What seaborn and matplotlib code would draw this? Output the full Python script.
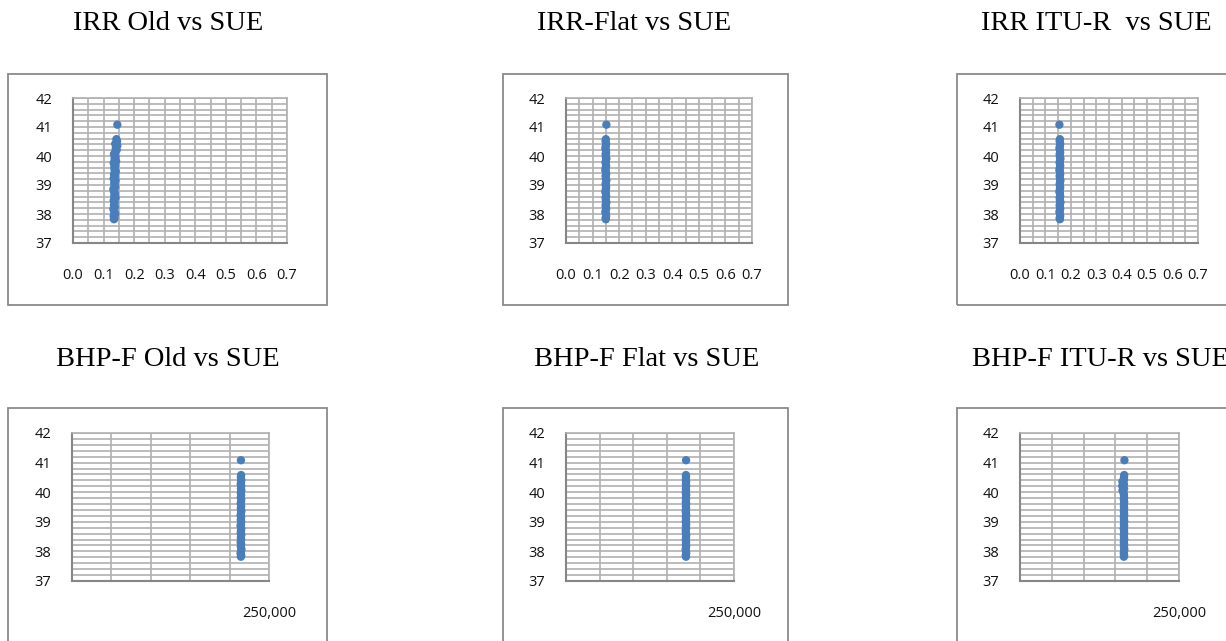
import matplotlib
matplotlib.use("Agg")
import matplotlib.pyplot as plt
from matplotlib.patches import Rectangle
from matplotlib.ticker import MultipleLocator, FixedLocator, FixedFormatter
import seaborn as sns
import pandas as pd

# ---------------- data ----------------
titles_top = ["IRR Old vs SUE", "IRR-Flat vs SUE", "IRR ITU-R  vs SUE"]
titles_bottom = ["BHP-F Old vs SUE", "BHP-F Flat vs SUE", "BHP-F ITU-R vs SUE"]

sue = [37.82, 37.86, 37.93, 38.01, 38.08, 38.17, 38.24, 38.31, 38.40, 38.47,
       38.56, 38.62, 38.71, 38.77, 38.86, 38.92, 39.01, 39.07, 39.16, 39.22,
       39.31, 39.37, 39.46, 39.52, 39.61, 39.67, 39.76, 39.82, 39.91, 39.97,
       40.06, 40.12, 40.21, 40.27, 40.36, 40.42, 40.51, 40.58, 41.08]

irr_old = [0.134, 0.136, 0.133, 0.138, 0.135, 0.132, 0.137, 0.134, 0.136, 0.133,
           0.139, 0.135, 0.137, 0.134, 0.132, 0.138, 0.136, 0.135, 0.139, 0.133,
           0.137, 0.134, 0.140, 0.136, 0.135, 0.138, 0.133, 0.141, 0.136, 0.139,
           0.134, 0.137, 0.143, 0.140, 0.145, 0.138, 0.144, 0.142, 0.145]
irr_flat = [0.150, 0.149, 0.151, 0.150, 0.148, 0.151, 0.150, 0.149, 0.152, 0.150,
            0.149, 0.151, 0.150, 0.148, 0.150, 0.151, 0.149, 0.150, 0.152, 0.150,
            0.149, 0.151, 0.150, 0.148, 0.150, 0.151, 0.149, 0.150, 0.152, 0.150,
            0.149, 0.151, 0.150, 0.148, 0.150, 0.151, 0.149, 0.150, 0.152]
irr_itur = [0.157, 0.156, 0.158, 0.157, 0.155, 0.158, 0.157, 0.156, 0.159, 0.157,
            0.156, 0.158, 0.157, 0.155, 0.157, 0.158, 0.156, 0.157, 0.159, 0.157,
            0.156, 0.158, 0.157, 0.155, 0.157, 0.158, 0.156, 0.157, 0.159, 0.157,
            0.156, 0.158, 0.157, 0.155, 0.157, 0.158, 0.156, 0.157, 0.155]
bhp_old = [214300, 214800, 213900, 214500, 215000, 214200, 214700, 214000, 214600, 214300,
           214900, 214100, 214500, 214800, 213900, 214400, 214700, 214200, 214600, 214000,
           214500, 214900, 214300, 214700, 214100, 214500, 214800, 214200, 214600, 214300,
           214900, 214400, 214700, 214100, 214500, 214800, 214300, 214600, 214400]
bhp_flat = [178600, 178200, 178900, 178500, 178100, 178800, 178400, 178700, 178300, 178600,
            178900, 178400, 178200, 178700, 178500, 178800, 178300, 178600, 178400, 178900,
            178500, 178200, 178700, 178400, 178800, 178300, 178600, 178500, 178900, 178300,
            178600, 178400, 178800, 178500, 178700, 178300, 178600, 178500, 178700]
bhp_itur = [163300, 163800, 163100, 163600, 164000, 163400, 163700, 163200, 163900, 163500,
            163300, 163800, 163600, 163100, 163700, 163400, 163900, 163500, 163200, 163800,
            163600, 163300, 163700, 163400, 163500, 163800, 163200, 163600, 163400, 163100,
            161200, 163700, 160800, 163400, 161000, 163600, 163500, 163800, 164200]

x_top_ticks = [0.0, 0.1, 0.2, 0.3, 0.4, 0.5, 0.6, 0.7]
x_top_labels = ["0.0", "0.1", "0.2", "0.3", "0.4", "0.5", "0.6", "0.7"]
x_bot_ticks = [0, 250000]
x_bot_labels = ["", "250,000"]
y_ticks = [37, 38, 39, 40, 41, 42]

# ---------------- style ----------------
sns.set_style("white")
plt.rcParams["font.family"] = ["Open Sans", "DejaVu Sans"]

W, H = 1226, 641
fig = plt.figure(figsize=(W / 100, H / 100), dpi=100)
fig.patch.set_facecolor("white")

GRID = "#b0b0b0"
AXIS = "#868686"
FRAME = "#8a8a8a"
BLUE = "#4A7EBB"


def frame(x0, x1, y0, y1):
    fig.patches.append(Rectangle((x0 / W, 1 - y1 / H), (x1 - x0) / W, (y1 - y0) / H,
                                 transform=fig.transFigure, fill=False,
                                 edgecolor=FRAME, linewidth=1.3))


def make_ax(x0, x1, y0, y1):
    return fig.add_axes([x0 / W, 1 - y1 / H, (x1 - x0) / W, (y1 - y0) / H])


def style_ax(ax, top_row):
    ax.set_ylim(37, 42)
    ax.yaxis.set_major_locator(FixedLocator(y_ticks))
    ax.yaxis.set_minor_locator(MultipleLocator(0.2))
    if top_row:
        ax.set_xlim(0, 0.7)
        ax.xaxis.set_major_locator(FixedLocator(x_top_ticks))
        ax.xaxis.set_major_formatter(FixedFormatter(x_top_labels))
        ax.xaxis.set_minor_locator(MultipleLocator(0.05))
    else:
        ax.set_xlim(0, 250000)
        ax.xaxis.set_major_locator(FixedLocator(x_bot_ticks))
        ax.xaxis.set_major_formatter(FixedFormatter(x_bot_labels))
        ax.xaxis.set_minor_locator(MultipleLocator(50000))
    ax.grid(True, which="both", color=GRID, linewidth=1.2)
    ax.set_axisbelow(True)
    for s in ["top", "right"]:
        ax.spines[s].set_color(GRID)
        ax.spines[s].set_linewidth(1.2)
    for s in ["left", "bottom"]:
        ax.spines[s].set_color(AXIS)
        ax.spines[s].set_linewidth(1.5)
    ax.tick_params(axis="both", which="major", direction="out", length=5,
                   width=1.3, color=AXIS, labelsize=10.5, labelcolor="#111111")
    ax.tick_params(axis="both", which="minor", length=0)
    ax.tick_params(axis="x", which="major", pad=13)
    ax.tick_params(axis="y", which="major", pad=10)
    ax.set_xlabel("")
    ax.set_ylabel("")


# frames
frame(8, 327, 74, 305)
frame(503, 788, 74, 305)
frame(957, 1245, 74, 305)
frame(8, 327, 408, 660)
frame(503, 788, 408, 660)
frame(957, 1245, 408, 660)

top_pos = [(73, 287), (566, 752), (1020, 1198)]
bot_pos = [(72, 269), (566, 734), (1020, 1179)]
top_x = [irr_old, irr_flat, irr_itur]
bot_x = [bhp_old, bhp_flat, bhp_itur]

for (x0, x1), xs in zip(top_pos, top_x):
    ax = make_ax(x0, x1, 98, 243)
    df = pd.DataFrame({"x": xs, "SUE": sue})
    sns.scatterplot(data=df, x="x", y="SUE", ax=ax, color=BLUE, s=36,
                    edgecolor="none", linewidth=0, zorder=3)
    style_ax(ax, True)

for (x0, x1), xs in zip(bot_pos, bot_x):
    ax = make_ax(x0, x1, 433, 581)
    df = pd.DataFrame({"x": xs, "SUE": sue})
    sns.scatterplot(data=df, x="x", y="SUE", ax=ax, color=BLUE, s=36,
                    edgecolor="none", linewidth=0, zorder=3)
    style_ax(ax, False)

# titles
title_font = dict(family=["Liberation Serif", "DejaVu Serif"], fontsize=20.5,
                  color="black", ha="center", va="center")
for t, cx in zip(titles_top, [168, 634, 1096]):
    fig.text(cx / W, 1 - 24 / H, t, **title_font)
for t, cx in zip(titles_bottom, [168, 647, 1100]):
    fig.text(cx / W, 1 - 360 / H, t, **title_font)

fig.savefig("out.png", dpi=100, facecolor="white")
